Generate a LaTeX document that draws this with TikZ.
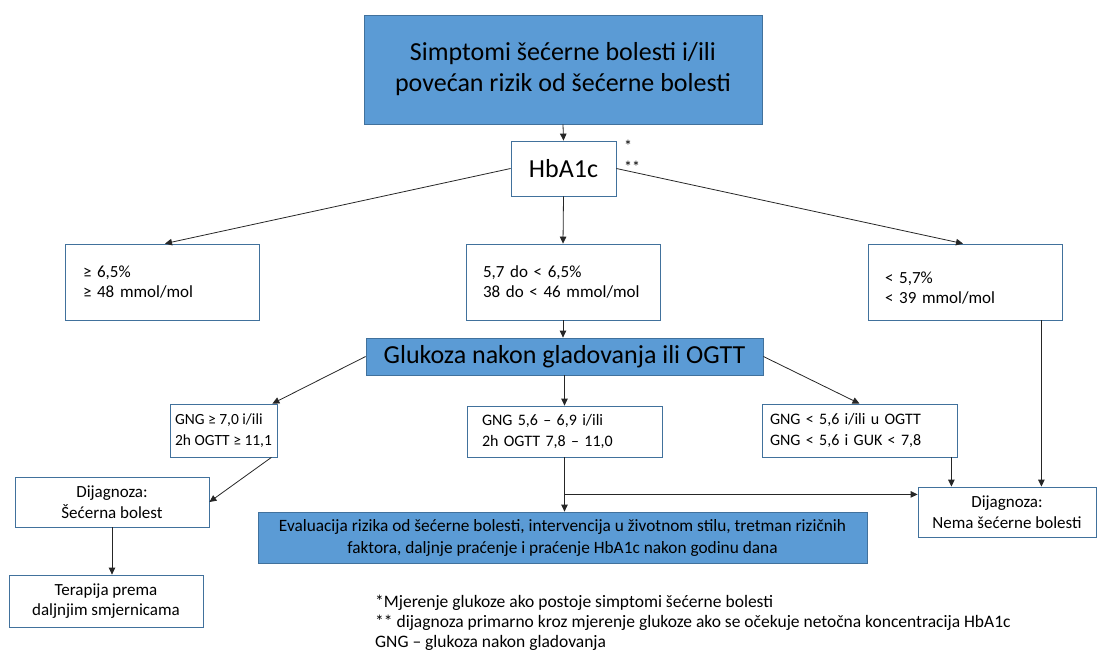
\documentclass[tikz,border=0pt]{standalone}
\usepackage{fontspec}
\setmainfont{Carlito}
\usetikzlibrary{arrows.meta,calc}
\definecolor{bluefill}{HTML}{5B9BD5}
\definecolor{blueline}{HTML}{41719C}
\definecolor{arrc}{HTML}{262626}
\begin{document}
\begin{tikzpicture}[x=1pt,y=-1pt,
  box/.style={draw=blueline,line width=0.8pt,fill=white,inner sep=0pt,text=black},
  bluebox/.style={box,fill=bluefill},
  arr/.style={draw=arrc,line width=0.8pt,-{Triangle[length=7pt,width=6.5pt]}},
  lefttext/.style={align=left,font=\fontsize{17}{20.5}\selectfont},
  ctext/.style={align=center,font=\fontsize{17}{20.5}\selectfont},
  gtext/.style={align=left,font=\fontsize{16}{21}\selectfont}]
\useasboundingbox (0,0) rectangle (1098,653);
% nodes
\node[bluebox,minimum width=398pt,minimum height=109pt,align=center,font=\fontsize{26}{31}\selectfont] (top) at (563,69.5)
  {Simptomi šećerne bolesti i/ili\\povećan rizik od šećerne bolesti};
\node[box,minimum width=105pt,minimum height=55pt,font=\fontsize{26}{31}\selectfont] (hba) at (563.5,168.5) {HbA1c};
\node[font=\fontsize{16}{18}\selectfont,anchor=west,inner sep=0pt] (s1) at (624,146) {*};
\node[font=\fontsize{16}{18}\selectfont,anchor=west,inner sep=0pt] (s2) at (624,167) {**};
\node[box,minimum width=194pt,minimum height=76pt,text width=158pt,lefttext] (b1) at (162,282)
  {≥ 6,5\%\\≥ 48 mmol/mol};
\node[box,minimum width=194pt,minimum height=76pt,text width=160pt,lefttext] (b2) at (563,282)
  {5,7 do < 6,5\%\\38 do < 46 mmol/mol};
\node[box,minimum width=194pt,minimum height=76pt,text width=160pt,lefttext] (b3) at (965,282)
  {\rule{0pt}{24pt}< 5,7\%\\< 39 mmol/mol};
\node[bluebox,minimum width=397pt,minimum height=37pt,font=\fontsize{26}{30}\selectfont] (glu) at (564.5,356.5)
  {Glukoza nakon gladovanja ili OGTT};
\node[box,minimum width=107pt,minimum height=53pt,align=left,font=\fontsize{15.5}{21}\selectfont] (g1) at (223.5,430.5)
  {GNG ≥ 7,0 i/ili\\2h OGTT ≥ 11,1};
\node[box,minimum width=195pt,minimum height=51pt,text width=165pt,gtext] (g2) at (564.5,431.5)
  {GNG 5,6 – 6,9 i/ili\\2h OGTT 7,8 – 11,0};
\node[box,minimum width=195pt,minimum height=53pt,text width=179pt,gtext] (g3) at (859.5,430.5)
  {GNG < 5,6 i/ili u OGTT\\GNG < 5,6 i GUK < 7,8};
\node[box,minimum width=194pt,minimum height=50pt,ctext] (d1) at (112,502)
  {Dijagnoza:\\Šećerna bolest};
\node[box,minimum width=194pt,minimum height=52pt,ctext] (ter) at (106,601)
  {Terapija prema\\daljnjim smjernicama};
\node[bluebox,minimum width=609pt,minimum height=51pt,align=center,font=\fontsize{17.3}{22}\selectfont] (eva) at (562.5,537.5)
  {Evaluacija rizika od šećerne bolesti, intervencija u životnom stilu, tretman rizičnih\\faktora, daljnje praćenje i praćenje HbA1c nakon godinu dana};
\node[box,minimum width=178pt,minimum height=50pt,ctext] (nema) at (1007,512)
  {Dijagnoza:\\Nema šećerne bolesti};
\node[anchor=north west,align=left,inner sep=0pt,font=\fontsize{17.5}{20}\selectfont] (foot) at (375,595)
  {*Mjerenje glukoze ako postoje simptomi šećerne bolesti\\
   ** dijagnoza primarno kroz mjerenje glukoze ako se očekuje netočna koncentracija HbA1c\\
   GNG – glukoza nakon gladovanja};
% connectors
\draw[arr] (top.south) -- (hba.north);
\draw[arr] (hba.west) -- ([xshift=3pt]b1.north);
\draw[arr] (hba.south) -- (b2.north);
\draw[arr] (hba.east) -- ([xshift=-2pt]b3.north);
\draw[arr] (b2.south) -- (b2.south |- glu.north);
\draw[arr] (glu.west) -- ([xshift=-5pt]g1.north east);
\draw[arr] (glu.south) -- (g2.north);
\draw[arr] (glu.east) -- (g3.north);
\draw[arr] ([xshift=-6pt]g1.south east) -- (d1.east);
\draw[arr] (d1.south) -- (d1.south |- ter.north);
\draw[arr] (g2.south) -- (g2.south |- eva.north);
\coordinate (j) at ($(g2.south)+(0,37)$);
\draw[arr] (j) -- (j -| nema.west);
\draw[arr] ([xshift=-6pt]g3.south east) -- ([xshift=-6pt]g3.south east |- nema.north);
\draw[arr] ([xshift=-21pt]b3.south east) -- ([xshift=-21pt]b3.south east |- nema.north);
\end{tikzpicture}
\end{document}
